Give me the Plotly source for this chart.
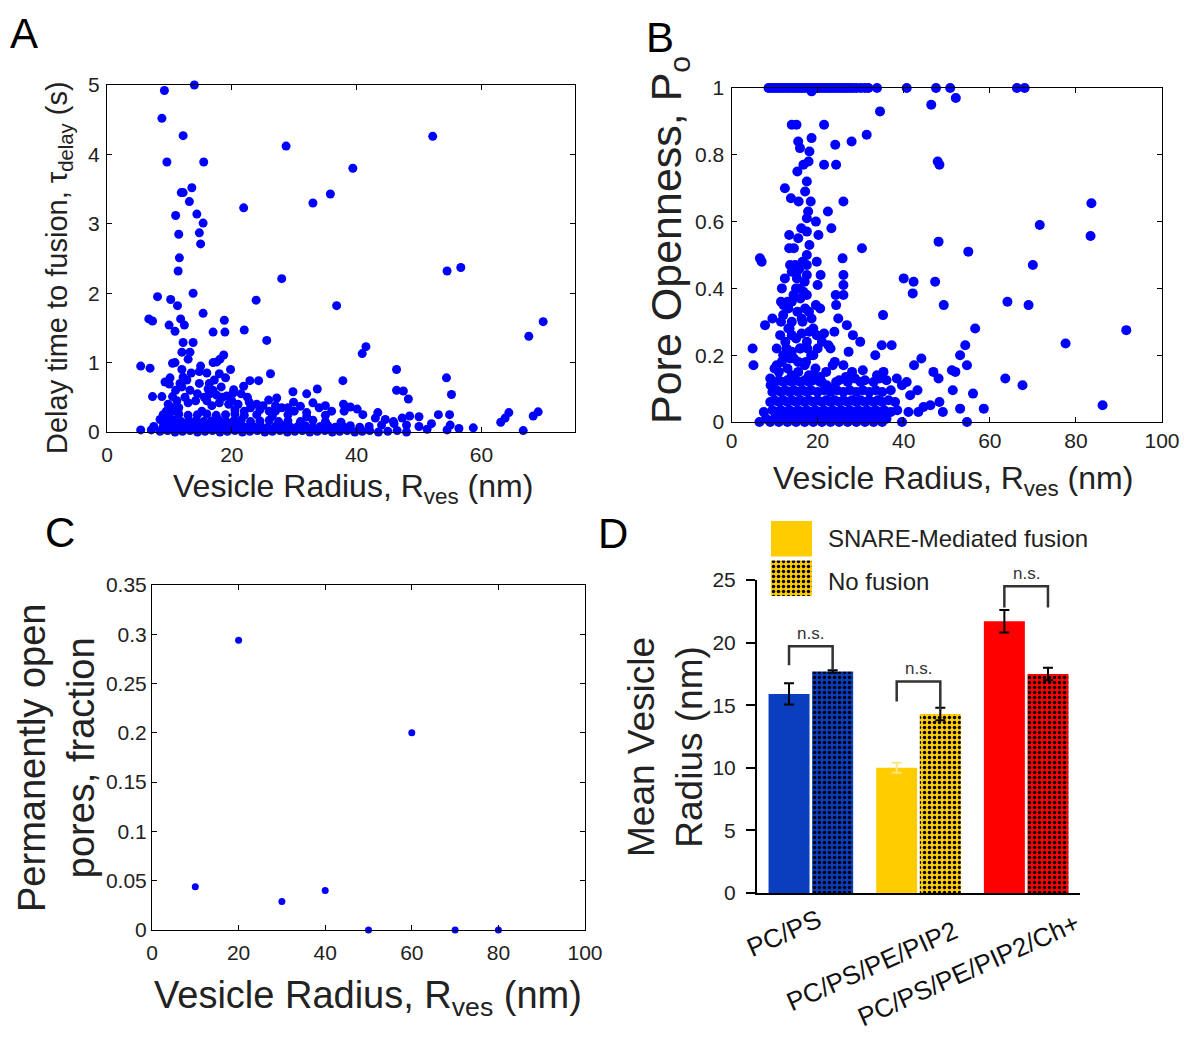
import plotly.graph_objects as go

W, H = 1184, 1062
FONT = "Liberation Sans, Arial, sans-serif"


def px(x):
    return x / W


def py(y):
    return 1 - y / H


# ---------------- Panel A data: (vesicle radius nm, delay time s) ----------------
panel_a_points = [
    (9.2, 4.92), (14.0, 5.0), (8.8, 4.52), (12.2, 4.27), (9.6, 3.89), (15.5, 3.89), (28.7, 4.12),
    (52.2, 4.26), (39.4, 3.80), (35.8, 3.43), (33.0, 3.30), (13.6, 3.52), (11.9, 3.45), (12.2, 3.45),
    (13.2, 3.32), (21.9, 3.23), (11.0, 3.12), (14.4, 3.14), (15.4, 3.01), (11.5, 2.85), (14.8, 2.87),
    (15.0, 2.71), (11.6, 2.51), (11.4, 2.32), (54.5, 2.32), (56.7, 2.37), (28.0, 2.21), (13.8, 2.00),
    (8.1, 1.95), (23.9, 1.90), (10.2, 1.91), (11.3, 1.82), (36.8, 1.82), (69.9, 1.59), (6.7, 1.63),
    (7.3, 1.60), (11.8, 1.63), (15.4, 1.71), (18.8, 1.61), (9.95, 1.54), (12.4, 1.54), (10.9, 1.45),
    (17.0, 1.44), (18.9, 1.44), (22.0, 1.47), (67.6, 1.38), (25.6, 1.32), (12.2, 1.29), (13.8, 1.29),
    (12.0, 1.15), (13.3, 1.15), (41.5, 1.23), (40.9, 1.13), (18.7, 1.11), (18.1, 1.05), (10.9, 1.0),
    (10.5, 0.99), (17.0, 1.0), (17.6, 1.01), (5.4, 0.95), (6.9, 0.92), (15.0, 0.95), (14.8, 0.87),
    (46.4, 0.90), (26.2, 0.84), (54.4, 0.78), (9.3, 0.72), (10.1, 0.78), (10.0, 0.69), (12.2, 0.79),
    (11.7, 0.70), (14.8, 0.70), (16.4, 0.70), (18.0, 0.84), (19.0, 0.78), (37.8, 0.74), (24.3, 0.74),
    (22.9, 0.74), (21.9, 0.66), (20.3, 0.61), (16.2, 0.62), (33.7, 0.62), (32.0, 0.55), (46.4, 0.60),
    (47.5, 0.59), (29.8, 0.58), (55.2, 0.54), (7.3, 0.51), (8.8, 0.51), (10.5, 0.51), (17.6, 0.53),
    (20.2, 0.56), (27.2, 0.49), (25.9, 0.46), (48.3, 0.475), (29.9, 0.43), (22.8, 0.43), (24.0, 0.40),
    (37.9, 0.40), (39.0, 0.36), (40.1, 0.33), (64.4, 0.28), (63.8, 0.20), (63.1, 0.14), (69.1, 0.29),
    (68.3, 0.23), (43.4, 0.28), (53.1, 0.25), (54.9, 0.25), (48.5, 0.23), (50.0, 0.22), (47.3, 0.20),
    (45.9, 0.15), (44.6, 0.18), (56.4, 0.05), (58.7, 0.06), (66.7, 0.02), (5.4, 0.03), (7.1, 0.03),
    (51.3, 0.04), (54.5, 0.03),
    (9.5, 0.30), (10.5, 0.35), (11.0, 0.60), (12.0, 0.65), (12.8, 0.75), (13.5, 0.85), (14.2, 0.45),
    (15.2, 0.30), (16.5, 0.55), (17.2, 0.75), (18.3, 0.65), (19.2, 0.52), (20.0, 0.45), (21.5, 0.55),
    (22.5, 0.50), (25.0, 0.38), (27.0, 0.38), (29.0, 0.35), (31.0, 0.37), (33.0, 0.42), (35.0, 0.38),
    (12.0, 0.90), (13.0, 1.05), (16.0, 0.85), (19.8, 0.90), (11.0, 0.30), (9.0, 0.25), (8.5, 0.18),
    (7.5, 0.08), (41.0, 0.25), (43.0, 0.20), (44.0, 0.10), (46.0, 0.12), (48.0, 0.10), (50.0, 0.08),
    (52.0, 0.12), (55.0, 0.10),
    # dense band near the axis
    (8.5, 0.01), (9.7, 0.02), (10.9, 0.0), (12.1, 0.01), (13.3, 0.02), (14.5, 0.0), (15.7, 0.01),
    (16.9, 0.02), (18.1, 0.0), (19.3, 0.01), (20.5, 0.02), (21.7, 0.0), (22.9, 0.01), (24.1, 0.02),
    (25.3, 0.0), (26.5, 0.01), (27.7, 0.02), (28.9, 0.0), (30.1, 0.01), (31.3, 0.02), (32.5, 0.0),
    (33.7, 0.01), (34.9, 0.02), (36.1, 0.0), (37.3, 0.01), (38.5, 0.02), (39.7, 0.0), (40.9, 0.01),
    (42.1, 0.02), (43.5, 0.0), (45.0, 0.01), (46.5, 0.02), (48.0, 0.0),
    (9.0, 0.08), (10.2, 0.09), (11.4, 0.07), (12.6, 0.08), (13.8, 0.09), (15.0, 0.07), (16.2, 0.08),
    (17.4, 0.09), (18.6, 0.07), (19.8, 0.08), (21.0, 0.09), (22.2, 0.07), (23.4, 0.08), (24.6, 0.09),
    (25.8, 0.07), (27.0, 0.08), (28.2, 0.09), (29.4, 0.07), (30.6, 0.08), (31.8, 0.09), (33.0, 0.07),
    (34.2, 0.08), (35.4, 0.09), (36.6, 0.07), (37.8, 0.08), (39.0, 0.09), (40.5, 0.07), (42.0, 0.08),
    (9.5, 0.16), (10.7, 0.17), (11.9, 0.15), (13.1, 0.16), (14.3, 0.17), (15.5, 0.15), (16.7, 0.16),
    (17.9, 0.17), (19.1, 0.15), (20.3, 0.16), (21.5, 0.17), (23.0, 0.15), (24.5, 0.16), (26.0, 0.17),
    (27.5, 0.15), (29.0, 0.16), (31.0, 0.15), (33.0, 0.17), (35.0, 0.15), (37.5, 0.14),
    (10.0, 0.25), (11.5, 0.26), (13.0, 0.24), (14.5, 0.25), (16.0, 0.26), (17.5, 0.24), (19.0, 0.25),
    (20.5, 0.26), (22.0, 0.24), (24.0, 0.25), (26.5, 0.23), (29.0, 0.25), (32.0, 0.22), (35.0, 0.24),
    (9.8, 0.40), (11.2, 0.45), (12.5, 0.50), (13.3, 0.60), (14.5, 0.55), (16.0, 0.45), (17.0, 0.60),
    (18.5, 0.50), (19.5, 0.40), (21.0, 0.40), (23.0, 0.35), (26.0, 0.30), (28.0, 0.35), (30.0, 0.30),
    (32.0, 0.28), (34.0, 0.35), (36.0, 0.30), (38.0, 0.30), (11.5, 0.35), (13.0, 0.42), (15.6, 0.50),
    (16.8, 0.38), (18.0, 0.42), (20.5, 0.32), (22.0, 0.30), (24.5, 0.32), (27.0, 0.30),
]

# ---------------- Panel B data: (vesicle radius nm, pore openness) ----------------
panel_b_points = [
    (8.6, 1.0), (9.3, 1.0), (10.0, 1.0), (10.7, 1.0), (11.4, 1.0), (12.1, 1.0), (12.8, 1.0), (13.5, 1.0),
    (14.2, 1.0), (14.9, 1.0), (15.6, 1.0), (16.3, 1.0), (17.0, 1.0), (17.7, 1.0), (18.4, 1.0), (19.1, 1.0),
    (19.8, 1.0), (20.5, 1.0), (21.2, 1.0), (21.9, 1.0), (22.6, 1.0), (23.3, 1.0), (24.0, 1.0), (24.7, 1.0),
    (25.4, 1.0), (26.1, 1.0), (26.8, 1.0), (27.5, 1.0), (28.2, 1.0), (29.0, 1.0), (30.0, 1.0), (31.0, 1.0),
    (31.8, 1.0), (33.8, 1.0), (40.7, 1.0), (47.5, 1.0), (50.8, 1.0), (66.3, 1.0), (68.1, 1.0), (18.6, 0.99),
    (52.1, 0.97), (46.4, 0.95), (34.5, 0.93),
    (14.0, 0.89), (15.1, 0.89), (21.5, 0.89), (18.6, 0.85), (15.5, 0.84), (15.9, 0.82), (18.1, 0.81),
    (24.1, 0.83), (27.9, 0.84), (31.4, 0.86), (17.9, 0.78), (16.7, 0.77), (15.3, 0.75), (21.5, 0.77),
    (24.3, 0.77), (47.9, 0.78), (48.3, 0.77), (17.5, 0.72), (12.4, 0.70), (13.8, 0.67), (17.1, 0.69),
    (18.4, 0.66), (15.6, 0.66), (26.0, 0.66), (22.4, 0.63), (83.6, 0.655), (17.5, 0.61), (19.6, 0.60),
    (23.2, 0.58), (71.6, 0.59), (13.4, 0.56), (17.5, 0.57), (20.2, 0.56), (83.4, 0.557), (48.1, 0.54),
    (15.5, 0.55), (18.1, 0.53), (13.4, 0.52), (30.3, 0.52), (55.0, 0.51), (6.6, 0.49), (7.0, 0.48),
    (17.5, 0.50), (25.8, 0.49), (13.6, 0.47), (14.8, 0.47), (15.8, 0.46), (17.5, 0.47), (19.8, 0.48),
    (70.0, 0.47), (14.0, 0.45), (15.2, 0.45), (20.7, 0.44), (26.0, 0.44), (17.5, 0.44), (40.0, 0.43),
    (42.3, 0.42), (47.3, 0.42), (12.4, 0.43), (15.2, 0.43), (26.0, 0.41), (20.0, 0.41), (11.7, 0.40),
    (15.8, 0.40), (16.7, 0.39), (24.2, 0.38), (26.0, 0.38), (42.1, 0.385), (14.4, 0.38), (17.5, 0.38),
    (11.5, 0.36), (12.1, 0.35), (19.6, 0.35), (20.6, 0.34), (24.3, 0.35), (49.3, 0.35), (64.1, 0.36),
    (69.0, 0.35), (13.2, 0.34), (15.3, 0.33), (17.1, 0.34), (35.2, 0.32), (9.5, 0.31), (7.8, 0.29),
    (14.0, 0.30), (16.3, 0.31), (18.6, 0.31), (24.8, 0.31), (26.8, 0.29), (28.2, 0.26), (56.6, 0.28),
    (91.7, 0.275), (11.3, 0.26), (13.2, 0.28), (14.0, 0.26), (16.3, 0.265), (18.1, 0.27), (19.8, 0.26),
    (21.5, 0.265), (23.9, 0.27), (22.5, 0.23), (21.0, 0.24), (29.9, 0.24), (77.6, 0.235), (34.9, 0.23),
    (33.4, 0.20), (37.2, 0.23), (54.3, 0.23), (53.1, 0.20), (27.2, 0.21), (4.9, 0.22), (5.1, 0.17),
    (12.8, 0.22), (14.0, 0.21), (15.9, 0.22), (17.6, 0.22), (19.0, 0.20), (44.1, 0.19), (42.4, 0.17),
    (54.7, 0.17), (23.5, 0.17), (10.5, 0.17), (11.7, 0.18), (13.6, 0.19), (15.5, 0.18), (17.3, 0.18),
    (46.9, 0.15), (48.1, 0.13), (51.2, 0.155), (52.0, 0.15), (30.5, 0.155), (35.3, 0.15), (33.8, 0.14),
    (34.4, 0.13), (63.6, 0.13), (67.6, 0.11), (86.2, 0.05), (58.6, 0.04), (53.1, 0.04), (54.7, 0.0),
    (56.1, 0.085), (51.4, 0.095), (43.2, 0.095), (41.5, 0.08), (39.6, 0.0), (41.1, 0.03), (43.4, 0.03),
    (44.6, 0.045), (46.2, 0.05), (49.1, 0.03), (48.3, 0.06), (20.6, 0.135), (19.4, 0.135), (26.6, 0.135),
    (28.7, 0.13), (9.0, 0.13), (9.1, 0.11), (20.6, 0.12), (22.1, 0.11), (24.3, 0.12), (23.3, 0.10),
    (38.4, 0.13), (39.6, 0.11), (40.7, 0.12),
    # dense cluster near the axis
    (6.5, 0.0), (8.0, 0.01), (9.0, 0.0), (10.0, 0.01), (11.0, 0.0), (12.0, 0.01), (13.0, 0.0), (14.0, 0.01),
    (15.0, 0.0), (16.0, 0.01), (17.0, 0.0), (18.0, 0.01), (19.0, 0.0), (20.0, 0.01), (21.0, 0.0), (22.0, 0.01),
    (23.0, 0.0), (24.0, 0.01), (25.0, 0.0), (26.0, 0.01), (27.0, 0.0), (28.0, 0.01), (29.0, 0.0), (30.0, 0.01),
    (31.0, 0.0), (32.0, 0.01), (33.0, 0.0), (34.0, 0.01), (35.0, 0.0), (36.0, 0.01),
    (7.5, 0.03), (9.5, 0.035), (10.5, 0.03), (11.5, 0.035), (12.5, 0.03), (13.5, 0.035), (14.5, 0.03),
    (15.5, 0.035), (16.5, 0.03), (17.5, 0.035), (18.5, 0.03), (19.5, 0.035), (20.5, 0.03), (21.5, 0.035),
    (22.5, 0.03), (23.5, 0.035), (24.5, 0.03), (25.5, 0.035), (26.5, 0.03), (27.5, 0.035), (28.5, 0.03),
    (29.5, 0.035), (30.5, 0.03), (31.5, 0.035), (32.5, 0.03), (33.5, 0.035), (34.5, 0.03), (35.5, 0.035),
    (37.0, 0.03), (38.5, 0.035),
    (9.0, 0.06), (10.0, 0.065), (11.0, 0.06), (12.0, 0.065), (13.0, 0.06), (14.0, 0.065), (15.0, 0.06),
    (16.0, 0.065), (17.0, 0.06), (18.0, 0.065), (19.0, 0.06), (20.0, 0.065), (21.0, 0.06), (22.0, 0.065),
    (23.0, 0.06), (24.0, 0.065), (25.0, 0.06), (26.0, 0.065), (27.0, 0.06), (28.0, 0.065), (29.0, 0.06),
    (30.0, 0.065), (31.0, 0.06), (32.0, 0.065), (33.0, 0.06), (34.0, 0.065), (35.0, 0.06), (36.5, 0.065),
    (38.0, 0.06),
    (9.5, 0.09), (10.5, 0.095), (11.5, 0.09), (12.5, 0.095), (13.5, 0.09), (14.5, 0.095), (15.5, 0.09),
    (16.5, 0.095), (17.5, 0.09), (18.5, 0.095), (20.0, 0.09), (21.5, 0.095), (23.0, 0.09), (24.5, 0.095),
    (26.0, 0.09), (27.5, 0.095), (29.0, 0.09), (30.5, 0.095), (32.0, 0.09), (33.5, 0.095), (35.0, 0.09),
    (37.0, 0.095),
    (10.0, 0.12), (11.0, 0.125), (12.0, 0.12), (13.0, 0.125), (14.0, 0.12), (15.0, 0.125), (16.0, 0.12),
    (17.0, 0.125), (18.0, 0.12), (19.0, 0.125), (21.0, 0.12), (25.0, 0.125), (27.0, 0.12), (31.0, 0.125),
    (33.0, 0.12), (36.0, 0.125),
    (11.0, 0.15), (12.0, 0.20), (12.5, 0.24), (13.0, 0.16), (13.5, 0.28), (14.0, 0.14), (14.5, 0.19),
    (15.0, 0.25), (15.5, 0.15), (16.0, 0.22), (16.5, 0.30), (17.0, 0.17), (17.5, 0.24), (18.0, 0.14),
    (18.5, 0.20), (19.0, 0.28), (19.5, 0.16), (20.0, 0.22), (12.0, 0.32), (14.0, 0.36), (16.0, 0.37),
    (18.0, 0.33), (15.0, 0.40), (17.0, 0.42), (16.5, 0.48), (14.5, 0.52), (17.8, 0.63), (16.2, 0.58),
    (22.0, 0.15), (24.0, 0.18), (23.0, 0.22), (26.0, 0.17), (28.0, 0.15), (30.0, 0.12), (13.0, 0.36),
    (11.5, 0.30), (10.5, 0.22), (10.0, 0.16),
]

# ---------------- Panel C data ----------------
c_radius = [10, 20, 30, 40, 50, 60, 70, 80]
c_fraction = [0.044, 0.294, 0.029, 0.040, 0.0, 0.200, 0.0, 0.0]

# ---------------- Panel D data ----------------
lipid_mixes = ["PC/PS", "PC/PS/PE/PIP2", "PC/PS/PE/PIP2/Ch+"]
fusion_mean = [15.9, 10.0, 21.7]
fusion_err = [0.85, 0.4, 0.9]
nofusion_mean = [17.7, 14.3, 17.5]
nofusion_err = [0.1, 0.5, 0.5]
legend_names = ["SNARE-Mediated fusion", "No fusion"]

# styles
mix_colors = ["#0A3EBF", "#FFCC00", "#FF0000"]
fusion_err_colors = ["black", "#FFE680", "black"]
BLUE = "#0000FF"

a_x = [p[0] for p in panel_a_points]
a_y = [p[1] for p in panel_a_points]
b_x = [p[0] for p in panel_b_points]
b_y = [p[1] for p in panel_b_points]

fig = go.Figure()

fig.add_trace(go.Scatter(x=a_x, y=a_y, mode="markers", xaxis="x", yaxis="y", cliponaxis=False,
                         marker=dict(color=BLUE, size=9, line=dict(width=0)), showlegend=False))
fig.add_trace(go.Scatter(x=b_x, y=b_y, mode="markers", xaxis="x2", yaxis="y2", cliponaxis=False,
                         marker=dict(color=BLUE, size=10, line=dict(width=0)), showlegend=False))
fig.add_trace(go.Scatter(x=c_radius, y=c_fraction, mode="markers", xaxis="x3", yaxis="y3", cliponaxis=False,
                         marker=dict(color=BLUE, size=7, line=dict(width=0)), showlegend=False))


def dotted(color):
    return dict(shape=".", fgcolor="black", bgcolor=color, size=5, solidity=0.38, fillmode="replace")


for i, mix in enumerate(lipid_mixes):
    fig.add_trace(go.Bar(
        x=[mix], y=[fusion_mean[i]], xaxis="x4", yaxis="y4", offsetgroup="fusion",
        marker=dict(color=mix_colors[i], line=dict(width=0)),
        error_y=dict(type="data", array=[fusion_err[i]], color=fusion_err_colors[i], thickness=2, width=5),
        showlegend=False))
    fig.add_trace(go.Bar(
        x=[mix], y=[nofusion_mean[i]], xaxis="x4", yaxis="y4", offsetgroup="nofusion",
        marker=dict(color=mix_colors[i], pattern=dotted(mix_colors[i]), line=dict(width=0)),
        error_y=dict(type="data", array=[nofusion_err[i]], color="black", thickness=2, width=5),
        showlegend=False))

# legend swatches drawn on a small hidden axis
fig.add_trace(go.Bar(y=[legend_names[0]], x=[1], orientation="h", xaxis="x5", yaxis="y5",
                     offsetgroup="leg", width=0.9, marker=dict(color="#FFCC00", line=dict(width=0)),
                     showlegend=False))
fig.add_trace(go.Bar(y=[legend_names[1]], x=[1], orientation="h", xaxis="x5", yaxis="y5",
                     offsetgroup="leg", width=0.9,
                     marker=dict(color="#FFCC00", pattern=dotted("#FFCC00"), line=dict(width=0)),
                     showlegend=False))

tickfont = dict(family=FONT, size=21, color="#222")


def box_axis(domain, rng, dtick, anchor, **kw):
    d = dict(domain=domain, range=rng, dtick=dtick, tick0=0, anchor=anchor, showline=True,
             linecolor="black", linewidth=1, mirror="ticks", ticks="inside", ticklen=5,
             tickcolor="black", showgrid=False, zeroline=False, tickfont=tickfont, automargin=False)
    d.update(kw)
    return d


layout = dict(
    width=W, height=H, margin=dict(l=0, r=0, t=0, b=0), template="none",
    paper_bgcolor="white", plot_bgcolor="white",
    font=dict(family=FONT, color="#222"),
    barmode="group", bargap=0.19, bargroupgap=0.06,
    xaxis=box_axis([px(107), px(575)], [0, 75], 20, "y", ticklabelstandoff=4),
    yaxis=box_axis([py(432), py(85)], [0, 5], 1, "x", ticklabelstandoff=2),
    xaxis2=box_axis([px(731.5), px(1162)], [0, 100], 20, "y2", ticklabelstandoff=0),
    yaxis2=box_axis([py(422), py(88)], [0, 1], 0.2, "x2", ticklabelstandoff=2),
    xaxis3=box_axis([px(152), px(585)], [0, 100], 20, "y3", ticklabelstandoff=4),
    yaxis3=box_axis([py(930), py(585)], [0, 0.35], 0.05, "x3", ticklabelstandoff=0),
    xaxis4=dict(domain=[px(757), px(1080)], anchor="y4", type="category", range=[-0.5, 2.5],
                showline=True, linecolor="black", linewidth=2, ticks="", showticklabels=False,
                showgrid=False, zeroline=False, automargin=False),
    yaxis4=dict(domain=[py(893), py(580)], anchor="x4", range=[0, 25], dtick=5, tick0=0,
                showline=True, linecolor="black", linewidth=2, ticks="outside", ticklen=9, tickwidth=2,
                tickcolor="black", showgrid=False, zeroline=False, tickfont=tickfont,
                ticklabelstandoff=6, automargin=False),
    xaxis5=dict(domain=[px(771), px(812)], anchor="y5", range=[0, 1], visible=False),
    yaxis5=dict(domain=[py(598), py(519)], anchor="x5", type="category",
                categoryorder="array", categoryarray=[legend_names[1], legend_names[0]],
                range=[-0.5, 1.5], visible=False),
)

ann = []


def txt(x, y, text, size, xanchor="center", yanchor="middle", angle=0, color="#222"):
    ann.append(dict(x=px(x), y=py(y), xref="paper", yref="paper", text=text, showarrow=False,
                    xanchor=xanchor, yanchor=yanchor, textangle=angle,
                    font=dict(family=FONT, size=size, color=color)))


# panel letters
txt(8, 8, "A", 42, "left", "top", color="black")
txt(644, 12, "B", 42, "left", "top", color="black")
txt(43, 507, "C", 42, "left", "top", color="black")
txt(596, 508, "D", 42, "left", "top", color="black")

# axis titles
txt(59, 268, "Delay time to fusion, τ<sub>delay</sub> (s)", 29, angle=-90)
txt(353, 488, "Vesicle Radius, R<sub>ves</sub> (nm)", 32)
txt(669, 240, "Pore Openness, P<sub>o</sub>", 43, angle=-90)
txt(953, 481, "Vesicle Radius, R<sub>ves</sub> (nm)", 32)
txt(368, 998, "Vesicle Radius, R<sub>ves</sub> (nm)", 38)
txt(56, 758, "Permanently open<br>pores, fraction", 38, angle=-90)
txt(665, 747, "Mean Vesicle<br>Radius (nm)", 37, angle=-90)

# legend labels
txt(826, 538, legend_names[0], 24, "left")
txt(826, 581, legend_names[1], 24, "left")

# rotated category labels under panel D
label_shift = [(18, -8), (46, -19), (60, -12)]
for i, mix in enumerate(lipid_mixes):
    ann.append(dict(x=i, y=0, xref="x4", yref="y4", text=mix, showarrow=False,
                    xanchor="right", yanchor="top", textangle=-24,
                    xshift=label_shift[i][0], yshift=label_shift[i][1],
                    font=dict(family=FONT, size=26, color="#111")))

# significance brackets (n.s.)
bracket_levels = [(19.7, 18.2, 17.8), (16.9, 15.3, 14.6), (24.5, 22.8, 22.8)]
shapes = []
for i, (top, left_bot, right_bot) in enumerate(bracket_levels):
    x0, x1 = i - 0.2025, i + 0.2025
    path = f"M {x0},{left_bot} L {x0},{top} L {x1},{top} L {x1},{right_bot}"
    shapes.append(dict(type="path", path=path, xref="x4", yref="y4",
                       line=dict(color="#333", width=2.5)))
    ann.append(dict(x=i, y=top, xref="x4", yref="y4", text="n.s.", showarrow=False,
                    yanchor="bottom", yshift=1, font=dict(family=FONT, size=17, color="#333")))

layout["annotations"] = ann
layout["shapes"] = shapes
fig.update_layout(**layout)

fig.write_html("out.html", config={"displayModeBar": False},
               post_script="document.body.style.margin='0';")
